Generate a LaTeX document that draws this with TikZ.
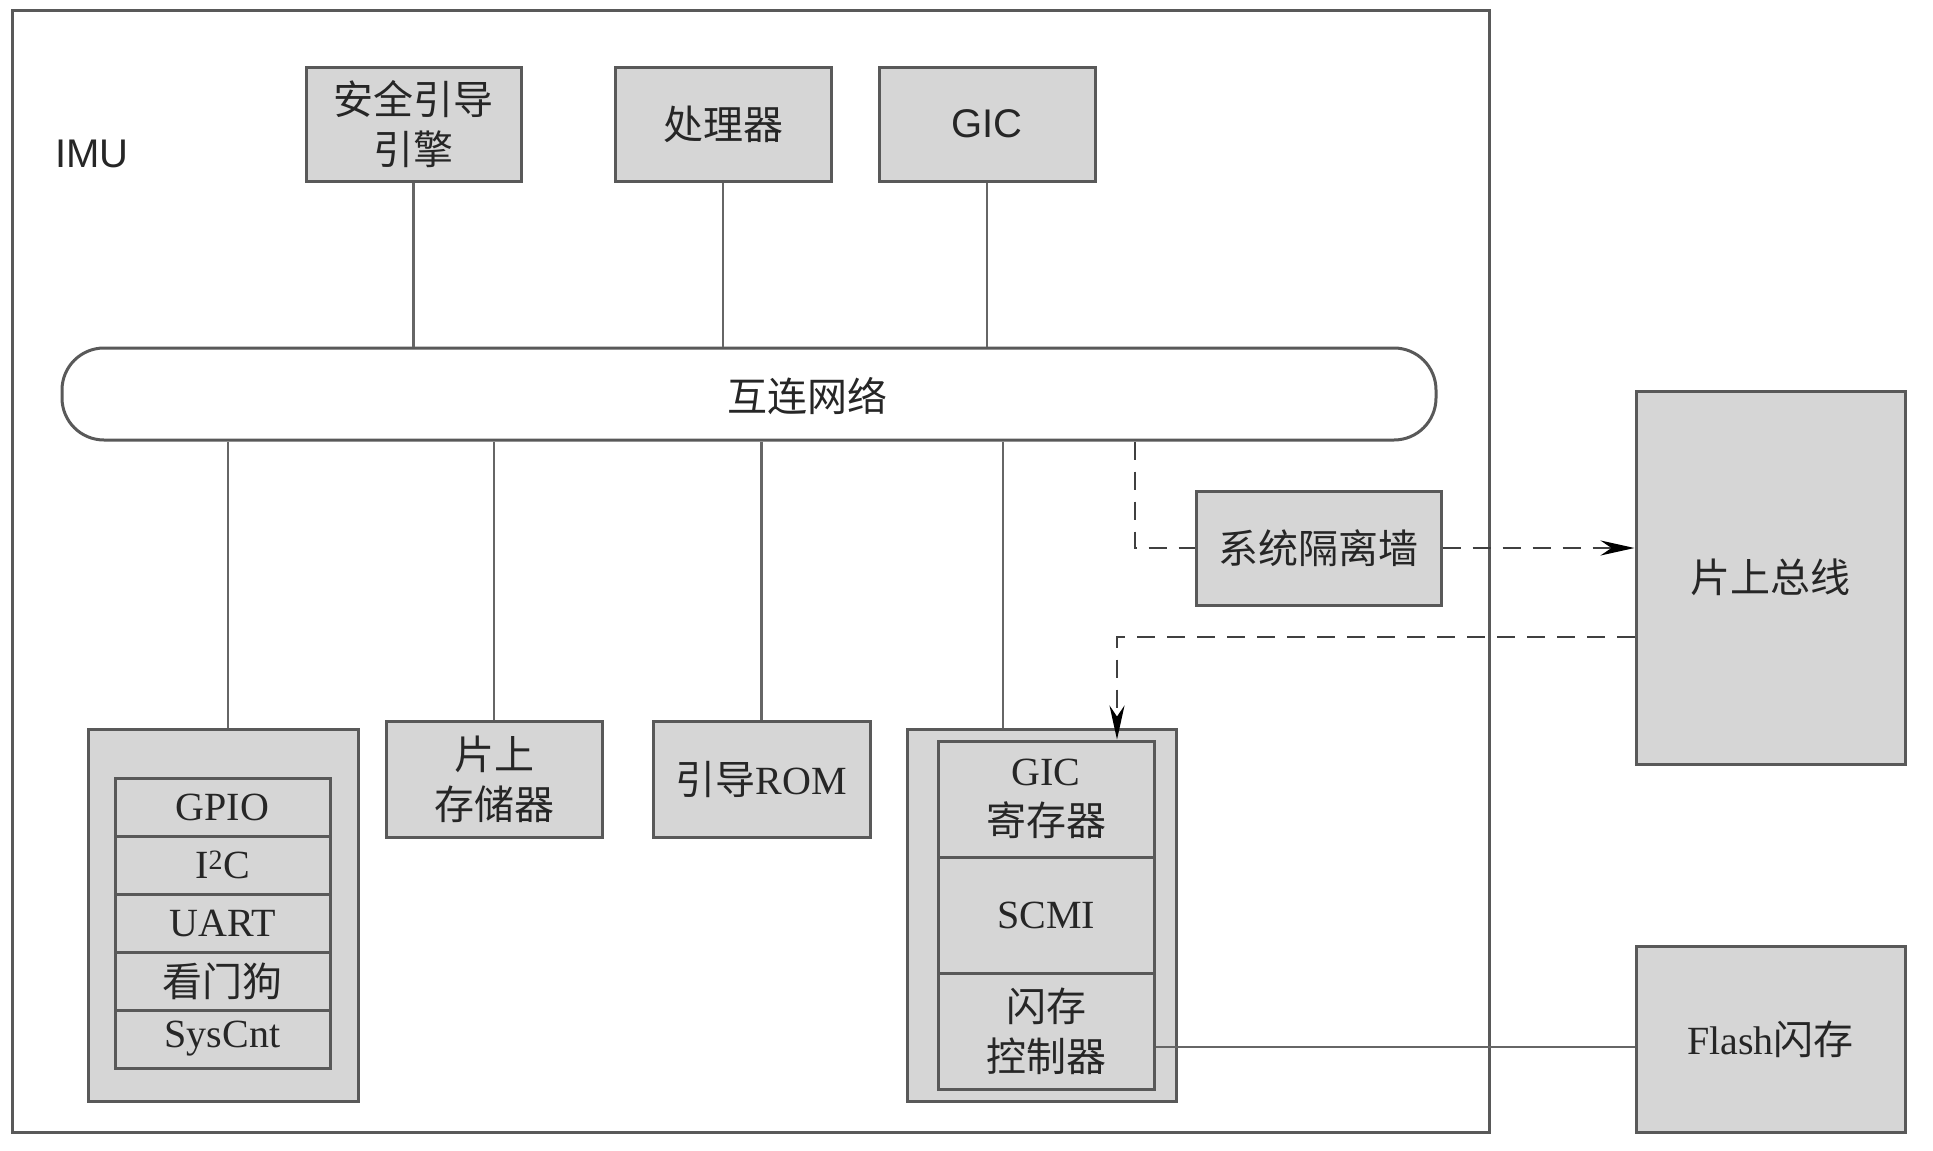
\documentclass[tikz,border=0pt]{standalone}
\usepackage{fontspec}
\setmainfont{Liberation Serif}
\setsansfont{Liberation Sans}
\newfontfamily\cjk{Noto Sans CJK SC}
\usetikzlibrary{arrows.meta,calc}
\newcommand{\zh}[1]{{\cjk #1}}
\begin{document}
\begin{tikzpicture}[x=1pt,y=-1pt,
 box/.style={draw=black!65, fill=black!16, line width=3pt, inner sep=0pt, align=center, text=black!85, font=\fontsize{40}{50}\selectfont},
 row/.style={box, minimum width=215pt, minimum height=58pt},
 row2/.style={box, minimum width=216pt, minimum height=116pt},
 conn/.style={draw=black!60, line width=2.5pt},
 dconn/.style={draw=black!75, line width=2.8pt, dash pattern=on 18pt off 12pt},
 tip/.style={-{Stealth[length=34pt,width=15pt,black]}}]
\useasboundingbox (0,0) rectangle (1933,1151);
\fill[white] (0,0) rectangle (1933,1151);
% IMU frame
\node[draw=black!65, line width=3pt, minimum width=1477pt, minimum height=1122pt, inner sep=0pt] (imu) at (750.5,571) {};
\node[text=black!85, font=\sffamily\fontsize{40}{48}\selectfont] (imul) at (92,154) {IMU};
% top boxes
\node[box, minimum width=215pt, minimum height=114pt] (seb) at (413.5,124) {\zh{安全引导}\\\zh{引擎}};
\node[box, minimum width=216pt, minimum height=114pt] (cpu) at (723,124) {\zh{处理器}};
\node[box, minimum width=216pt, minimum height=114pt, font=\sffamily\fontsize{40}{50}\selectfont] (gic) at (987,124) {GIC};
% interconnect
\node[draw=black!65, line width=3pt, fill=white, rounded corners=42pt, minimum width=1374pt, minimum height=92pt] (noc) at (749,394) {};
\node[text=black!85, font=\fontsize{40}{50}\selectfont] (noct) at (807,396) {\zh{互连网络}};
% left group
\node[box, minimum width=270pt, minimum height=372pt] (grp1) at (223,915) {};
\node[row] (gpio) at (222.5,807) {GPIO};
\node[row] (i2c) at (222.5,865) {I\textsuperscript{2}C};
\node[row] (uart) at (222.5,923) {UART};
\node[row] (wdt) at (222.5,981) {\zh{看门狗}};
\node[row] (sysc) at (222.5,1039) {SysCnt};
% memory boxes
\node[box, minimum width=216pt, minimum height=116pt] (sram) at (494,779) {\zh{片上}\\\zh{存储器}};
\node[box, minimum width=217pt, minimum height=116pt] (rom) at (761.5,779) {\zh{引导}ROM};
% right group
\node[box, minimum width=269pt, minimum height=372pt] (grp2) at (1041.5,915) {};
\node[row2] (gicr) at (1046,799) {GIC\\\zh{寄存器}};
\node[row2] (scmi) at (1046,915) {SCMI};
\node[row2] (fc) at (1046,1031) {\zh{闪存}\\\zh{控制器}};
% firewall, bus, flash
\node[box, minimum width=245pt, minimum height=114pt] (sif) at (1318.5,548) {\zh{系统隔离墙}};
\node[box, minimum width=269pt, minimum height=373pt] (bus) at (1770.5,577.5) {\zh{片上总线}};
\node[box, minimum width=269pt, minimum height=186pt] (flash) at (1770.5,1039) {Flash\zh{闪存}};
% helper coordinates
\coordinate (x1) at (228,0);
\coordinate (x2) at (1003,0);
\coordinate (x3) at (1135,0);
\coordinate (y4) at (0,637);
\coordinate (x5) at (1117,0);
\coordinate (y6) at (0,1047);
% connectors
\draw[conn] (seb.south) -- (seb.south |- noc.north);
\draw[conn] (cpu.south) -- (cpu.south |- noc.north);
\draw[conn] (gic.south) -- (gic.south |- noc.north);
\draw[conn] (noc.south -| x1) -- (grp1.north -| x1);
\draw[conn] (noc.south -| sram.north) -- (sram.north);
\draw[conn] (noc.south -| rom.north) -- (rom.north);
\draw[conn] (noc.south -| x2) -- (grp2.north -| x2);
\draw[dconn] (noc.south -| x3) |- (sif.west);
\draw[dconn, tip] (sif.east) -- (bus.west |- sif.east);
\draw[dconn, tip] (bus.west |- y4) -| (gicr.north -| x5);
\draw[conn] (fc.east |- y6) -- (flash.west |- y6);
\end{tikzpicture}
\end{document}
